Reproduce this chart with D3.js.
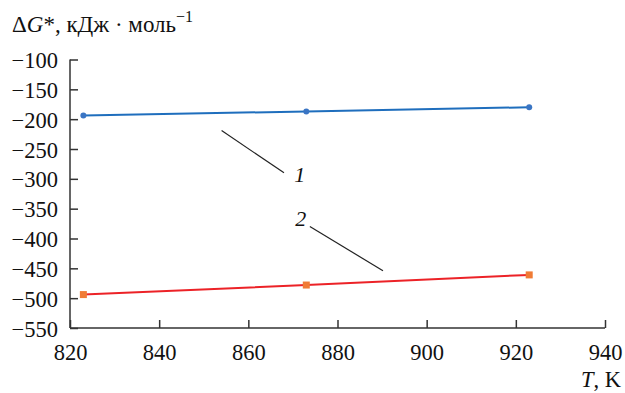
<!DOCTYPE html>
<html>
<head>
<meta charset="utf-8">
<script src="https://cdn.jsdelivr.net/npm/d3@7"></script>
<style>
  body { margin: 0; background: #fff; }
  svg text { font-family: "Liberation Serif", "Times New Roman", serif; }
</style>
</head>
<body>
<svg width="625" height="393"></svg>
<script>
// temperatures, K
var temps = [823, 873, 923]
// ΔG*, kJ/mol
var series1 = [-194, -187, -180]
var series2 = [-494, -478, -461]
var xTicks = [820, 840, 860, 880, 900, 920, 940]
var yTicks = [-100, -150, -200, -250, -300, -350, -400, -450, -500, -550]

var svg = d3.select("svg"),
    pLeft = 70, pRight = 605, pTop = 59.5, pBottom = 328

var x = d3.scaleLinear().domain([820, 940]).range([pLeft, pRight]),
    y = d3.scaleLinear().domain([-550, -100]).range([pBottom, pTop])

var fmt = function(d){ return d < 0 ? "\u2212" + Math.abs(d) : d }

// y axis, ticks pointing inward
var gy = svg.append("g").attr("transform", "translate(" + pLeft + ",0)")
    .call(d3.axisLeft(y).tickValues(yTicks).tickSize(-8).tickPadding(20).tickFormat(fmt))
gy.select(".domain").attr("d", "M0," + pTop + "V" + pBottom)

// x axis, ticks pointing up
var gx = svg.append("g").attr("transform", "translate(0," + pBottom + ")")
    .call(d3.axisBottom(x).tickValues(xTicks).tickSize(-8).tickPadding(20).tickFormat(fmt))
gx.select(".domain").attr("d", "M" + pLeft + ",0H" + pRight)

gy.attr("font-family", "Liberation Serif").attr("font-size", 22.5)
gx.attr("font-family", "Liberation Serif").attr("font-size", 22.5)
svg.selectAll(".domain, .tick line").attr("stroke", "#333").attr("stroke-width", 1.5)
svg.selectAll(".tick text").attr("fill", "#111")
gy.selectAll(".tick text").attr("x", -12).attr("dy", "0.36em")
gx.selectAll(".tick text").attr("y", 16)

var line = d3.line()
    .x(function(d){ return x(d[0]) })
    .y(function(d){ return y(d[1]) })

var pts1 = temps.map(function(t, i){ return [t, series1[i]] })
var pts2 = temps.map(function(t, i){ return [t, series2[i]] })

svg.append("path").datum(pts1).attr("d", line)
    .attr("fill", "none").attr("stroke", "#1f6ebd").attr("stroke-width", 2)
svg.selectAll(".dot1").data(pts1).enter().append("circle")
    .attr("cx", function(d){ return x(d[0]) })
    .attr("cy", function(d){ return y(d[1]) })
    .attr("r", 3).attr("fill", "#3a75c4")

svg.append("path").datum(pts2).attr("d", line)
    .attr("fill", "none").attr("stroke", "#ec2227").attr("stroke-width", 2)
svg.selectAll(".sq2").data(pts2).enter().append("rect")
    .attr("x", function(d){ return x(d[0]) - 3.5 })
    .attr("y", function(d){ return y(d[1]) - 3.5 })
    .attr("width", 7).attr("height", 7).attr("fill", "#f07b35")

// leader lines with curve numbers (data units)
var leaders = [
    {label: "1", from: [854, -219], to: [868, -290], at: [870.3, -305]},
    {label: "2", from: [873.8, -380], to: [890.2, -454], at: [870.5, -379]}
]
leaders.forEach(function(l){
    svg.append("line")
        .attr("x1", x(l.from[0])).attr("y1", y(l.from[1]))
        .attr("x2", x(l.to[0])).attr("y2", y(l.to[1]))
        .attr("stroke", "#222").attr("stroke-width", 1.2)
    svg.append("text").attr("x", x(l.at[0])).attr("y", y(l.at[1]))
        .attr("font-size", 22).style("font-style", "italic").attr("fill", "#111")
        .text(l.label)
})

// axis titles
var ttl = svg.append("text").attr("x", 12).attr("y", 32).attr("font-size", 23).attr("fill", "#111")
ttl.append("tspan").text("\u0394")
ttl.append("tspan").style("font-style", "italic").text("G")
ttl.append("tspan").text("*, кДж \u00b7 моль")
ttl.append("tspan").attr("dy", -10).attr("font-size", 16).text("\u22121")

var xt = svg.append("text").attr("x", 621).attr("y", 387).attr("text-anchor", "end")
    .attr("font-size", 22.5).attr("fill", "#111")
xt.append("tspan").style("font-style", "italic").text("T")
xt.append("tspan").text(", K")
</script>
</body>
</html>
